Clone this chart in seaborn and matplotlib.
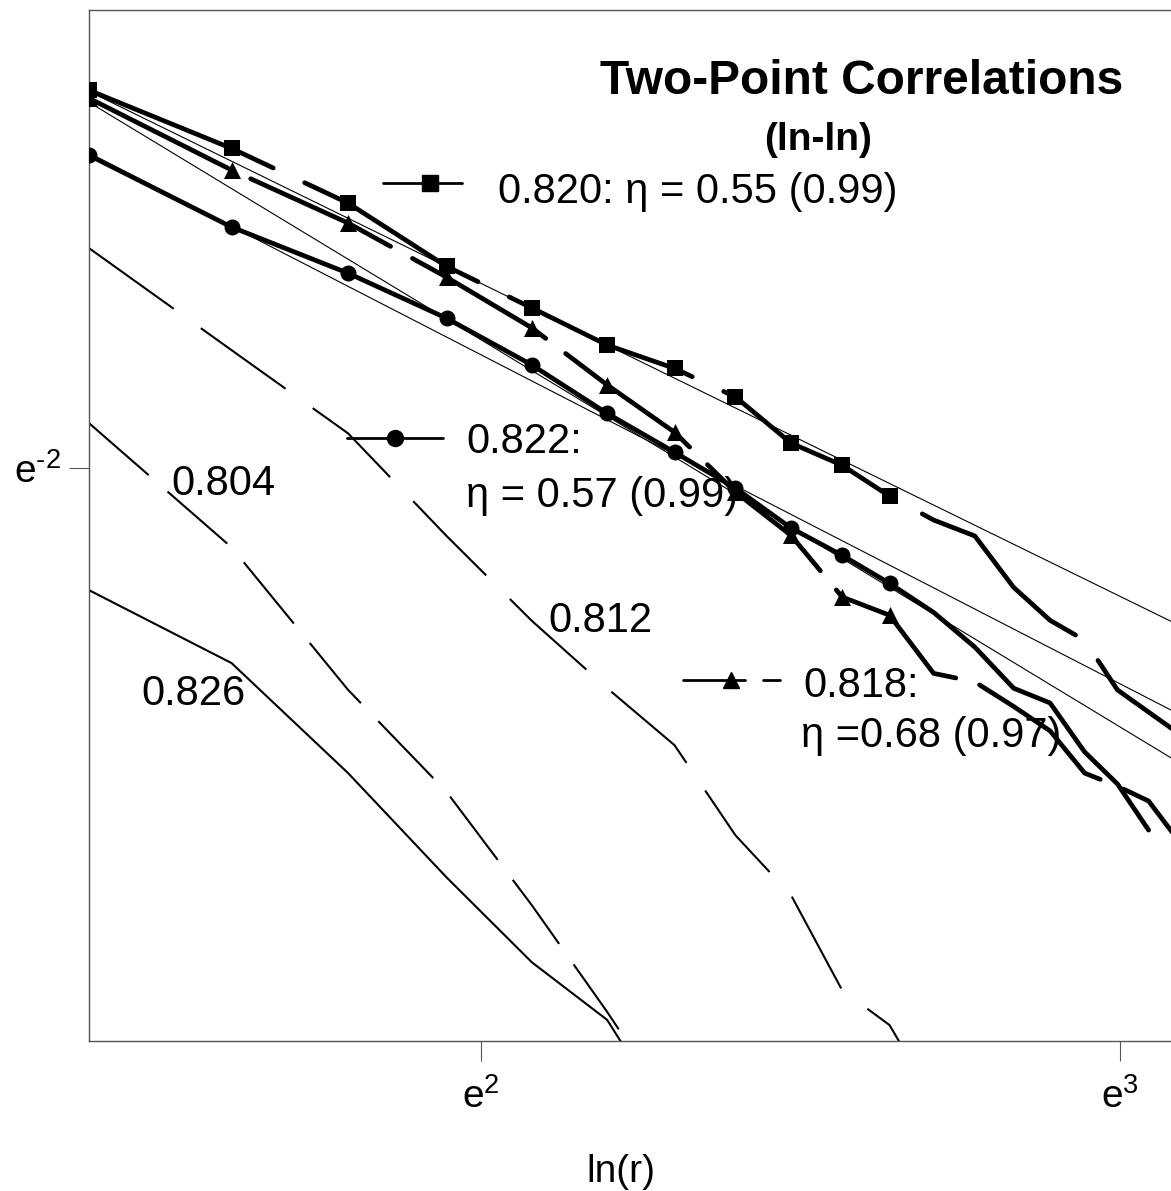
import numpy as np
import pandas as pd
import matplotlib
matplotlib.use("Agg")
import matplotlib.pyplot as plt
import seaborn as sns
from matplotlib.lines import Line2D
from matplotlib.ticker import NullLocator

# distance r and ln C(r)
r_820 = [4, 5, 6, 7, 8, 9, 10, 11, 12, 13, 14, 15, 16, 17, 18, 19, 20, 21, 22]
lnc_820 = [-1.337, -1.439, -1.535, -1.646, -1.719, -1.784, -1.825, -1.875, -1.956, -1.995,
           -2.049, -2.091, -2.119, -2.209, -2.267, -2.302, -2.389, -2.428, -2.465]

r_822 = [4, 5, 6, 7, 8, 9, 10, 11, 12, 13, 14, 15, 16, 17, 18, 19, 20, 21]
lnc_822 = [-1.451, -1.577, -1.658, -1.737, -1.819, -1.904, -1.972, -2.035, -2.105, -2.153,
           -2.202, -2.253, -2.314, -2.386, -2.412, -2.498, -2.554, -2.635]

r_818 = [4, 5, 6, 7, 8, 9, 10, 11, 12, 13, 14, 15, 16, 17, 18, 19, 20, 21, 22]
lnc_818 = [-1.351, -1.477, -1.570, -1.665, -1.754, -1.854, -1.937, -2.042, -2.118, -2.226,
           -2.258, -2.360, -2.375, -2.418, -2.461, -2.535, -2.558, -2.584, -2.653]

# markers only on the fitted range r = 4..14
n_marked = 11

r_812 = [4, 5, 6, 7, 8, 9, 10, 11, 12, 13, 14, 15]
lnc_812 = [-1.614, -1.793, -1.939, -2.119, -2.268, -2.386, -2.486, -2.644, -2.749, -2.916, -2.977, -3.109]

r_804 = [4, 5, 6, 7, 8, 9, 10]
lnc_804 = [-1.921, -2.139, -2.389, -2.568, -2.767, -2.954, -3.132]

r_826 = [4, 5, 6, 7, 8, 9, 10]
lnc_826 = [-2.214, -2.342, -2.535, -2.718, -2.867, -2.968, -3.156]

# power-law fits (thin lines), ends at r = 4 and r = 22
r_fit = [4, 22]
fit_820 = [-1.339, -2.275]
fit_822 = [-1.447, -2.431]
fit_818 = [-1.358, -2.516]

W, H = 1171, 1191
sns.set_theme(style="white")
plt.rcParams["font.family"] = ["Liberation Sans", "DejaVu Sans"]
plt.rcParams["text.color"] = "black"
plt.rcParams["mathtext.fontset"] = "custom"
plt.rcParams["mathtext.rm"] = "Liberation Sans"
plt.rcParams["mathtext.default"] = "regular"
plt.rcParams["lines.scale_dashes"] = False

fig = plt.figure(figsize=(W / 100, H / 100), dpi=100)
fig.patch.set_facecolor("white")
ax = fig.add_axes([89 / W, 1 - 1041 / H, 1083.5 / W, 1031 / H])
ax.set_facecolor("white")


def fx(x):
    return x / W


def fy(y):
    return 1 - y / H


def draw(r, lnc, lw, dashes=None, cap="round", z=3):
    sns.lineplot(x=np.array(r, dtype=float), y=np.exp(lnc), ax=ax, color="black",
                 lw=lw, estimator=None, sort=False, zorder=z)
    line = ax.lines[-1]
    if dashes is not None:
        line.set_dashes(dashes)
    line.set_dash_capstyle(cap)
    line.set_solid_capstyle(cap)
    line.set_dash_joinstyle("round")
    line.set_solid_joinstyle("round")


# thin fit lines
for fit in [fit_820, fit_822, fit_818]:
    draw(r_fit, fit, 0.8, cap="butt", z=2)

# other correlation curves
draw(r_812, lnc_812, 1.5, dashes=(75, 24), cap="butt", z=2)
draw(r_804, lnc_804, 1.5, dashes=(57, 18), cap="butt", z=2)
draw(r_826, lnc_826, 1.5, cap="butt", z=2)

# thick data curves
draw(r_820, lnc_820, 3.4, dashes=(144, 25))
draw(r_822, lnc_822, 3.4)
draw(r_818, lnc_818, 3.4, dashes=(112, 18))

for r, lnc, mk, s in [(r_820, lnc_820, "s", 132), (r_822, lnc_822, "o", 132), (r_818, lnc_818, "^", 150)]:
    sns.scatterplot(x=np.array(r[:n_marked], dtype=float), y=np.exp(lnc[:n_marked]), ax=ax,
                    marker=mk, s=s, color="black", linewidth=0, zorder=4)

ax.set_xscale("log", base=np.e)
ax.set_yscale("log", base=np.e)
ax.set_xlim(4, 21.8)
ax.set_ylim(np.exp(-3.005), np.exp(-1.1962))
ax.set_xticks([np.e ** 2, np.e ** 3], labels=[r"$e^{2}$", r"$e^{3}$"])
ax.set_yticks([np.e ** -2], labels=[r"$e^{\text{-}2}$"])
ax.xaxis.set_minor_locator(NullLocator())
ax.yaxis.set_minor_locator(NullLocator())
ax.set_xlabel("")
ax.set_ylabel("")
ax.tick_params(axis="both", direction="out", length=14.4, width=0.8, color="#555555",
               labelsize=28, labelcolor="black")
ax.tick_params(axis="x", pad=12, bottom=True)
ax.tick_params(axis="y", pad=6, left=True)
for side in ["left", "bottom", "top", "right"]:
    ax.spines[side].set_color("#555555")
    ax.spines[side].set_linewidth(1.0)

# legend-like samples
fig.add_artist(Line2D([fx(383), fx(462)], [fy(183)] * 2, lw=2.0, color="black"))
fig.add_artist(Line2D([fx(430)], [fy(183)], marker="s", ms=11, color="black", lw=0))
fig.add_artist(Line2D([fx(347), fx(443)], [fy(438)] * 2, lw=2.0, color="black"))
fig.add_artist(Line2D([fx(395)], [fy(438)], marker="o", ms=11.5, color="black", lw=0))
fig.add_artist(Line2D([fx(683), fx(745)], [fy(680)] * 2, lw=2.0, color="black"))
fig.add_artist(Line2D([fx(763), fx(780)], [fy(680)] * 2, lw=2.0, color="black"))
fig.add_artist(Line2D([fx(731)], [fy(680)], marker="^", ms=12, color="black", lw=0))

txt = dict(fontsize=30, color="black", va="baseline", ha="left")
fig.text(fx(498), fy(203), "0.820: η = 0.55 (0.99)", **txt)
fig.text(fx(466), fy(453), "0.822:", **txt)
fig.text(fx(466), fy(507), "η = 0.57 (0.99)", **txt)
fig.text(fx(803), fy(697), "0.818:", **txt)
fig.text(fx(801), fy(747), "η =0.68 (0.97)", **txt)
fig.text(fx(171), fy(495), "0.804", **txt)
fig.text(fx(548), fy(632), "0.812", **txt)
fig.text(fx(141), fy(705), "0.826", **txt)

fig.text(fx(862), fy(94), "Two-Point Correlations", fontsize=34.5, fontweight="bold",
         color="black", ha="center", va="baseline")
fig.text(fx(818), fy(150), "(ln-ln)", fontsize=28, fontweight="bold",
         color="black", ha="center", va="baseline")
fig.text(fx(621), fy(1182), "ln(r)", fontsize=28, color="black", ha="center", va="baseline")

fig.savefig("out.png", dpi=100, facecolor="white")
